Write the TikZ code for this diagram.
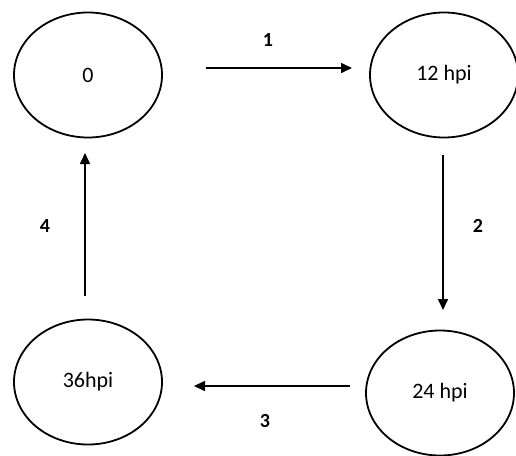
\documentclass[tikz,border=0pt]{standalone}
\usepackage{fontspec}
\setmainfont{Carlito}
\usetikzlibrary{shapes.geometric,arrows.meta}
\begin{document}
\begin{tikzpicture}[x=1pt,y=-1pt,
  state/.style={draw,ellipse,line width=1.8pt,minimum width=148pt,minimum height=125pt,inner sep=0pt,font=\fontsize{22}{24}\selectfont},
  conn/.style={line width=1.6pt,-{Triangle[length=11pt,width=10pt]}},
  lab/.style={font=\bfseries\fontsize{20}{22}\selectfont}]
\useasboundingbox (0,0) rectangle (516,455);
\node[state] (s0) at (88,75) {0};
\node[state] (s12) at (444,75) {12 hpi};
\node[state] (s24) at (440,393) {24 hpi};
\node[state] (s36) at (88,382) {36hpi};
\coordinate (a1s) at (206,68); \coordinate (a1e) at (352,68);
\coordinate (a2s) at (443,155); \coordinate (a2e) at (443,310);
\coordinate (a3s) at (350,386); \coordinate (a3e) at (194,386);
\coordinate (a4s) at (85,296); \coordinate (a4e) at (85,153);
\draw[conn] (a1s) -- (a1e);
\draw[conn] (a2s) -- (a2e);
\draw[conn] (a3s) -- (a3e);
\draw[conn] (a4s) -- (a4e);
\node[lab] (l1) at (268,40) {1};
\node[lab] (l2) at (478,226) {2};
\node[lab] (l3) at (265,421) {3};
\node[lab] (l4) at (45,226) {4};
\end{tikzpicture}
\end{document}
